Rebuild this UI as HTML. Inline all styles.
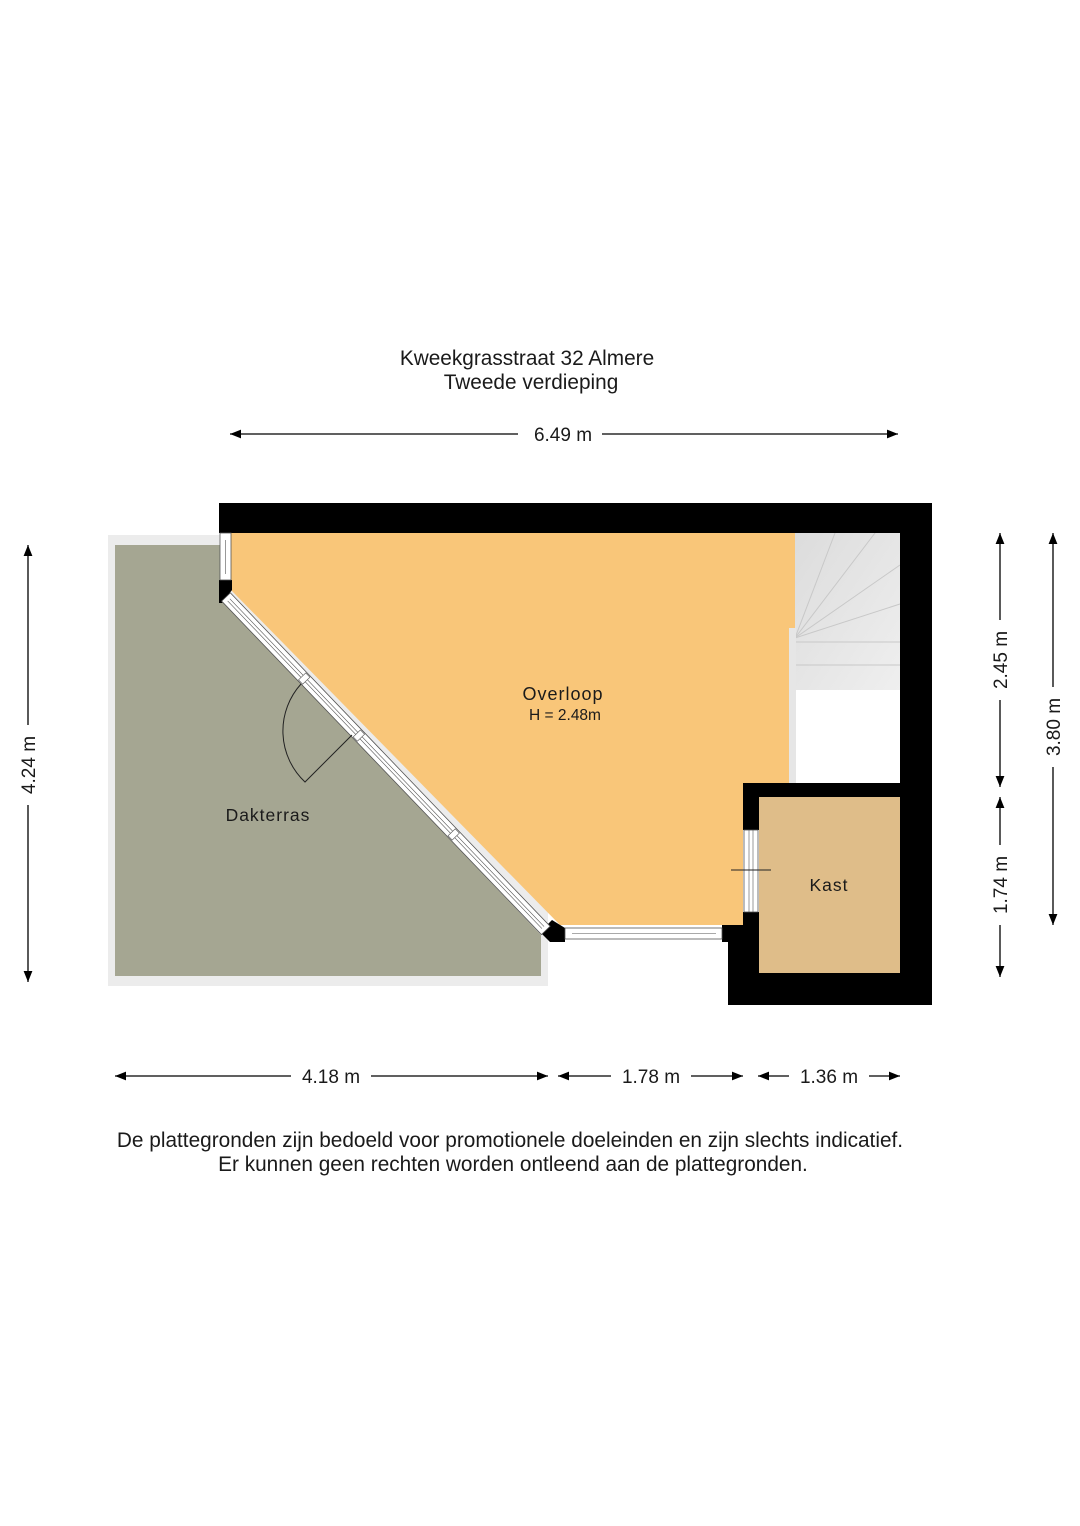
<!DOCTYPE html>
<html><head><meta charset="utf-8"><style>
html,body{margin:0;padding:0;background:#fff}
svg{display:block}
text{font-family:"Liberation Sans",sans-serif;fill:#1a1a1a}
</style></head><body>
<svg width="1080" height="1526" viewBox="0 0 1080 1526" xmlns="http://www.w3.org/2000/svg">
<defs>
<marker id="ar" viewBox="0 0 10 10" refX="10" refY="5" markerWidth="12" markerHeight="11" orient="auto-start-reverse" markerUnits="userSpaceOnUse"><path d="M0,1 L10,5 L0,9 z" fill="#000"/></marker>
<linearGradient id="st" x1="0" y1="0" x2="1" y2="1"><stop offset="0" stop-color="#dcdcdc"/><stop offset="1" stop-color="#efefef"/></linearGradient>
</defs>
<text x="527" y="365" font-size="20.8" text-anchor="middle">Kweekgrasstraat 32 Almere</text>
<text x="531" y="389" font-size="20.8" text-anchor="middle">Tweede verdieping</text>

<line x1="230" y1="434" x2="518" y2="434" stroke="#000" stroke-width="1.3" marker-start="url(#ar)"/>
<line x1="602" y1="434" x2="898" y2="434" stroke="#000" stroke-width="1.3" marker-end="url(#ar)"/>
<text x="563" y="441" font-size="19" text-anchor="middle">6.49 m</text>

<rect x="108" y="535" width="440" height="451" fill="#ececec"/>
<polygon points="115,545 222,545 222,600 541,935 541,976 115,976" fill="#a5a692"/>
<polygon points="231,533 795,533 795,783 743,783 743,925 560,925 231,590" fill="#f9c679"/>
<rect x="795" y="533" width="105" height="157" fill="url(#st)"/>
<g stroke="#c8c8c8" stroke-width="1" fill="none">
<line x1="795" y1="638" x2="835" y2="533"/><line x1="795" y1="638" x2="875" y2="533"/><line x1="795" y1="638" x2="900" y2="565"/><line x1="795" y1="638" x2="900" y2="604"/>
<line x1="795" y1="642" x2="900" y2="642"/><line x1="795" y1="665" x2="900" y2="665"/></g>
<rect x="795" y="690" width="105" height="93" fill="#fff"/>
<rect x="789" y="628" width="7" height="155" fill="#e6e6e6"/>
<rect x="759" y="797" width="141" height="176" fill="#dfbd89"/>
<g fill="#000">
<rect x="219" y="503" width="713" height="30"/>
<rect x="900" y="503" width="32" height="502"/>
<rect x="728" y="973" width="204" height="32"/>
<rect x="743" y="783" width="157" height="14"/>
<rect x="743" y="783" width="16" height="47"/>
<rect x="743" y="912" width="16" height="61"/>
<rect x="728" y="925" width="31" height="80"/>
<rect x="722" y="925" width="8" height="17"/>
<polygon points="219,580 232,580 232,590 222,603 219,603"/>
<polygon points="540,932 552,920 565,928 565,942 550,942"/>
</g>
<rect x="220" y="533" width="11" height="47" fill="#fff" stroke="#555" stroke-width="0.8"/>
<line x1="225.5" y1="540" x2="225.5" y2="574" stroke="#555" stroke-width="0.6"/>
<rect x="744" y="830" width="14" height="82" fill="#fff" stroke="#555" stroke-width="0.8"/>
<line x1="749" y1="830" x2="749" y2="912" stroke="#555" stroke-width="0.6"/><line x1="753" y1="830" x2="753" y2="912" stroke="#555" stroke-width="0.6"/>
<line x1="731" y1="870" x2="771" y2="870" stroke="#222" stroke-width="1"/>
<rect x="565" y="928" width="157" height="11" fill="#fff" stroke="#555" stroke-width="0.8"/>
<line x1="572" y1="933.5" x2="716" y2="933.5" stroke="#555" stroke-width="0.6"/>
<g transform="translate(226,597) rotate(46.2)">
<rect x="0" y="-6" width="462" height="12" fill="#fff" stroke="#555" stroke-width="0.8"/>
<line x1="4" y1="-1.5" x2="458" y2="-1.5" stroke="#555" stroke-width="0.6"/>
<line x1="4" y1="1.5" x2="458" y2="1.5" stroke="#555" stroke-width="0.6"/>
<rect x="110" y="-5" width="6" height="10" fill="#fff" stroke="#555" stroke-width="0.6"/>
<rect x="189" y="-5" width="6" height="10" fill="#fff" stroke="#555" stroke-width="0.6"/>
<rect x="326" y="-5" width="6" height="10" fill="#fff" stroke="#555" stroke-width="0.6"/>
</g>
<path d="M301,684 A70,70 0 0 0 305,782 L352,735" fill="none" stroke="#222" stroke-width="1"/>

<text x="563" y="700" font-size="18" text-anchor="middle" letter-spacing="1">Overloop</text>
<text x="565" y="720" font-size="15.5" text-anchor="middle">H = 2.48m</text>
<text x="268" y="821" font-size="17.5" text-anchor="middle" letter-spacing="1">Dakterras</text>
<text x="829" y="891" font-size="17.5" text-anchor="middle" letter-spacing="1">Kast</text>

<line x1="28" y1="545" x2="28" y2="725" stroke="#000" stroke-width="1.3" marker-start="url(#ar)"/>
<line x1="28" y1="805" x2="28" y2="982" stroke="#000" stroke-width="1.3" marker-end="url(#ar)"/>
<text transform="translate(35,765) rotate(-90)" font-size="19" text-anchor="middle">4.24 m</text>
<line x1="1000" y1="533" x2="1000" y2="620" stroke="#000" stroke-width="1.3" marker-start="url(#ar)"/>
<line x1="1000" y1="700" x2="1000" y2="787" stroke="#000" stroke-width="1.3" marker-end="url(#ar)"/>
<text transform="translate(1007,660) rotate(-90)" font-size="19" text-anchor="middle">2.45 m</text>
<line x1="1000" y1="797" x2="1000" y2="845" stroke="#000" stroke-width="1.3" marker-start="url(#ar)"/>
<line x1="1000" y1="925" x2="1000" y2="977" stroke="#000" stroke-width="1.3" marker-end="url(#ar)"/>
<text transform="translate(1007,885) rotate(-90)" font-size="19" text-anchor="middle">1.74 m</text>
<line x1="1053" y1="533" x2="1053" y2="687" stroke="#000" stroke-width="1.3" marker-start="url(#ar)"/>
<line x1="1053" y1="767" x2="1053" y2="925" stroke="#000" stroke-width="1.3" marker-end="url(#ar)"/>
<text transform="translate(1060,727) rotate(-90)" font-size="19" text-anchor="middle">3.80 m</text>
<line x1="115" y1="1076" x2="291" y2="1076" stroke="#000" stroke-width="1.3" marker-start="url(#ar)"/>
<line x1="371" y1="1076" x2="548" y2="1076" stroke="#000" stroke-width="1.3" marker-end="url(#ar)"/>
<text x="331" y="1083" font-size="19" text-anchor="middle">4.18 m</text>
<line x1="558" y1="1076" x2="611" y2="1076" stroke="#000" stroke-width="1.3" marker-start="url(#ar)"/>
<line x1="691" y1="1076" x2="743" y2="1076" stroke="#000" stroke-width="1.3" marker-end="url(#ar)"/>
<text x="651" y="1083" font-size="19" text-anchor="middle">1.78 m</text>
<line x1="758" y1="1076" x2="789" y2="1076" stroke="#000" stroke-width="1.3" marker-start="url(#ar)"/>
<line x1="869" y1="1076" x2="900" y2="1076" stroke="#000" stroke-width="1.3" marker-end="url(#ar)"/>
<text x="829" y="1083" font-size="19" text-anchor="middle">1.36 m</text>

<text x="510" y="1147" font-size="20.8" text-anchor="middle">De plattegronden zijn bedoeld voor promotionele doeleinden en zijn slechts indicatief.</text>
<text x="513" y="1171" font-size="20.8" text-anchor="middle">Er kunnen geen rechten worden ontleend aan de plattegronden.</text>
</svg>
</body></html>
